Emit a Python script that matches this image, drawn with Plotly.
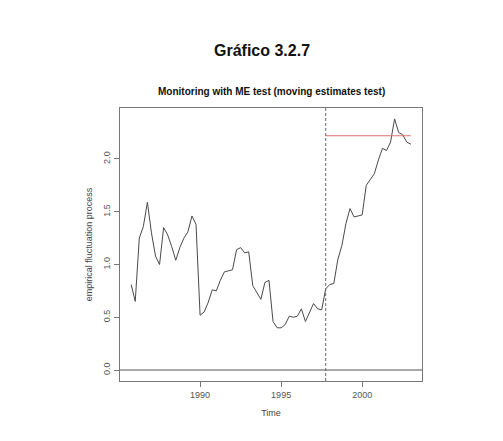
import plotly.graph_objects as go

# ── DATA (quarterly) ─────────────────────────────────────────
time = [1985.75,
        1986.00, 1986.25, 1986.50, 1986.75,
        1987.00, 1987.25, 1987.50, 1987.75,
        1988.00, 1988.25, 1988.50, 1988.75,
        1989.00, 1989.25, 1989.50, 1989.75,
        1990.00, 1990.25, 1990.50, 1990.75,
        1991.00, 1991.25, 1991.50, 1991.75,
        1992.00, 1992.25, 1992.50, 1992.75,
        1993.00, 1993.25, 1993.50, 1993.75,
        1994.00, 1994.25, 1994.50, 1994.75,
        1995.00, 1995.25, 1995.50, 1995.75,
        1996.00, 1996.25, 1996.50, 1996.75,
        1997.00, 1997.25, 1997.50, 1997.75,
        1998.00, 1998.25, 1998.50, 1998.75,
        1999.00, 1999.25, 1999.50, 1999.75,
        2000.00, 2000.25, 2000.50, 2000.75,
        2001.00, 2001.25, 2001.50, 2001.75,
        2002.00, 2002.25, 2002.50, 2002.75,
        2003.00]

efp = [0.81,
       0.65, 1.25, 1.36, 1.59,
       1.30, 1.08, 1.00, 1.35,
       1.28, 1.17, 1.04, 1.16,
       1.25, 1.31, 1.46, 1.38,
       0.52, 0.55, 0.64, 0.76,
       0.75, 0.85, 0.93, 0.94,
       0.95, 1.14, 1.16, 1.11,
       1.12, 0.80, 0.74, 0.67,
       0.83, 0.85, 0.46, 0.40,
       0.40, 0.43, 0.51, 0.50,
       0.51, 0.58, 0.46, 0.55,
       0.63, 0.58, 0.57, 0.77,
       0.81, 0.82, 1.05, 1.18,
       1.39, 1.53, 1.45, 1.46,
       1.47, 1.75, 1.80, 1.86,
       1.99, 2.10, 2.08, 2.16,
       2.38, 2.25, 2.23, 2.16,
       2.14]

monitor_start = 1997.75
boundary_x = [1997.75, 2003.00]
boundary_y = [2.22, 2.22]

x_ticks = [1990, 1995, 2000]
y_ticks = [0.0, 0.5, 1.0, 1.5, 2.0]
y_labels = ['0.0', '0.5', '1.0', '1.5', '2.0']

FONT = 'Liberation Sans, Arial, sans-serif'

fig = go.Figure()

# fluctuation process
fig.add_trace(go.Scatter(x=time, y=efp, mode='lines',
                         line=dict(color='#4a4a4a', width=1),
                         showlegend=False, hoverinfo='skip'))

# boundary
fig.add_trace(go.Scatter(x=boundary_x, y=boundary_y, mode='lines',
                         line=dict(color='#e07070', width=1),
                         showlegend=False, hoverinfo='skip'))

# zero line and start of monitoring
fig.add_hline(y=0, line=dict(color='#555555', width=1))
fig.add_vline(x=monitor_start, line=dict(color='#666666', width=1, dash='3px,2px'))

axis_common = dict(showline=True, linecolor='#777777', linewidth=1, mirror=True,
                   ticks='outside', ticklen=5, tickcolor='#777777',
                   showgrid=False, zeroline=False,
                   tickfont=dict(family=FONT, size=9, color='#555555'))

fig.update_xaxes(range=[1985.06, 2003.69], tickvals=x_ticks,
                 title=dict(text='Time', font=dict(family=FONT, size=9, color='#444444'),
                            standoff=10),
                 **axis_common)
fig.update_yaxes(range=[-0.104, 2.483], tickvals=y_ticks, ticktext=y_labels,
                 tickangle=-90,
                 title=dict(text='empirical fluctuation process',
                            font=dict(family=FONT, size=9, color='#444444'),
                            standoff=8),
                 **axis_common)

# page body adds ~8px offset, margins compensate
fig.update_layout(
    width=503, height=441,
    margin=dict(l=112, r=89, t=100, b=68),
    paper_bgcolor='white', plot_bgcolor='white',
    annotations=[
        dict(text='<b>Gráfico 3.2.7</b>', x=(262 - 120) / 302, xref='paper',
             y=1.25, yref='paper', showarrow=False,
             font=dict(family=FONT, size=16, color='#111111')),
        dict(text='<b>Monitoring with ME test (moving estimates test)</b>',
             x=0.5, xref='paper', y=1.088, yref='paper', showarrow=False,
             font=dict(family=FONT, size=10, color='#111111')),
    ],
)

fig.write_html('out.html')
